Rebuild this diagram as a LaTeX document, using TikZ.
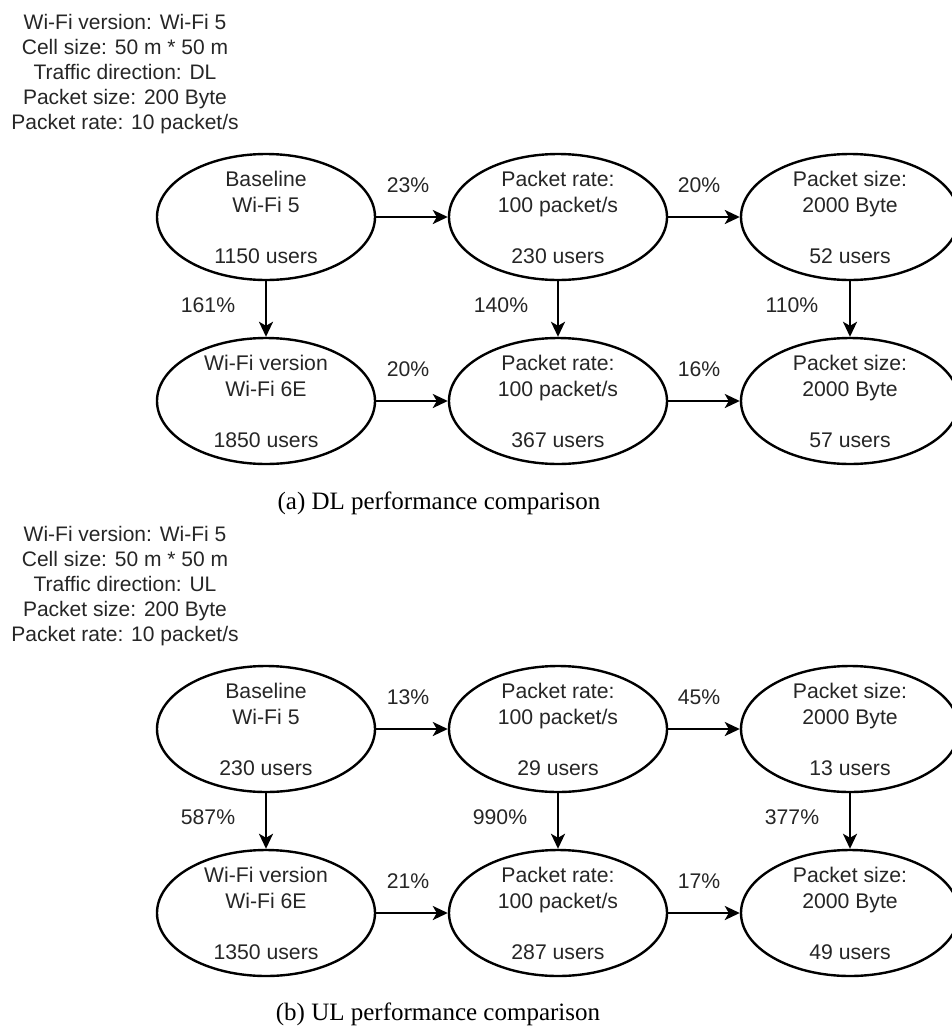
\documentclass[tikz,border=0pt]{standalone}
\usepackage{fontspec}
\setmainfont{Liberation Sans}
\newfontfamily\capfont{Liberation Serif}
\usetikzlibrary{shapes.geometric,arrows.meta}

\definecolor{ink}{HTML}{262626}
\newcommand\txtfont{\fontsize{21.2}{25.5}\selectfont}
\newcommand\hdrfont{\fontsize{21}{25}\selectfont}
% three-line ellipse body: two title lines, a gap, the user count
\newcommand\cellbody[3]{\smash{\raisebox{-8pt}{\begin{tabular}{@{}c@{}}#1\\#2\\ \\#3\end{tabular}}}}

\tikzset{
  state/.style={ellipse, draw=black, line width=2.4pt, minimum width=218pt,
    minimum height=126pt, inner sep=0pt, font=\txtfont, text=ink},
  flow/.style={line width=2.4pt, -{Stealth[length=15pt,width=14pt,inset=4pt]}},
  pct/.style={font=\txtfont, text=ink, inner sep=0pt},
  hdr/.style={font=\hdrfont, text=ink, align=center, inner sep=0pt},
  capt/.style={font=\capfont\fontsize{25}{29}\selectfont, text=black, inner sep=0pt}
}

\begin{document}
\begin{tikzpicture}[x=1pt,y=-1pt]
\clip (0,0) rectangle (952,1026);
\fill[white] (0,0) rectangle (952,1026);

% ---------- (a) downlink ----------
\node[hdr] (hdra) at (125,74) {Wi-Fi version: Wi-Fi 5\\Cell size: 50 m * 50 m\\Traffic direction: DL\\Packet size: 200 Byte\\Packet rate: 10 packet/s};

\node[state] (a11) at (266,217) {\cellbody{Baseline}{Wi-Fi 5}{1150 users}};
\node[state] (a12) at (558,217) {\cellbody{Packet rate:}{100 packet/s}{230 users}};
\node[state] (a13) at (850,217) {\cellbody{Packet size:}{2000 Byte}{52 users}};
\node[state] (a21) at (266,401) {\cellbody{Wi-Fi version}{Wi-Fi 6E}{1850 users}};
\node[state] (a22) at (558,401) {\cellbody{Packet rate:}{100 packet/s}{367 users}};
\node[state] (a23) at (850,401) {\cellbody{Packet size:}{2000 Byte}{57 users}};

\draw[flow] (a11) -- node[pct, xshift=-4pt, yshift=32pt] {23\%} (a12);
\draw[flow] (a12) -- node[pct, xshift=-5pt, yshift=32pt] {20\%} (a13);
\draw[flow] (a21) -- node[pct, xshift=-4pt, yshift=32pt] {20\%} (a22);
\draw[flow] (a22) -- node[pct, xshift=-5pt, yshift=32pt] {16\%} (a23);
\draw[flow] (a11) -- node[pct, xshift=-58pt, yshift=4pt] {161\%} (a21);
\draw[flow] (a12) -- node[pct, xshift=-57pt, yshift=4pt] {140\%} (a22);
\draw[flow] (a13) -- node[pct, xshift=-58pt, yshift=4pt] {110\%} (a23);

\node[capt] (capa) at (439,503) {(a) DL performance comparison};

% ---------- (b) uplink ----------
\node[hdr] (hdrb) at (125,586) {Wi-Fi version: Wi-Fi 5\\Cell size: 50 m * 50 m\\Traffic direction: UL\\Packet size: 200 Byte\\Packet rate: 10 packet/s};

\node[state] (b11) at (266,729) {\cellbody{Baseline}{Wi-Fi 5}{230 users}};
\node[state] (b12) at (558,729) {\cellbody{Packet rate:}{100 packet/s}{29 users}};
\node[state] (b13) at (850,729) {\cellbody{Packet size:}{2000 Byte}{13 users}};
\node[state] (b21) at (266,913) {\cellbody{Wi-Fi version}{Wi-Fi 6E}{1350 users}};
\node[state] (b22) at (558,913) {\cellbody{Packet rate:}{100 packet/s}{287 users}};
\node[state] (b23) at (850,913) {\cellbody{Packet size:}{2000 Byte}{49 users}};

\draw[flow] (b11) -- node[pct, xshift=-4pt, yshift=32pt] {13\%} (b12);
\draw[flow] (b12) -- node[pct, xshift=-5pt, yshift=32pt] {45\%} (b13);
\draw[flow] (b21) -- node[pct, xshift=-4pt, yshift=32pt] {21\%} (b22);
\draw[flow] (b22) -- node[pct, xshift=-5pt, yshift=32pt] {17\%} (b23);
\draw[flow] (b11) -- node[pct, xshift=-58pt, yshift=4pt] {587\%} (b21);
\draw[flow] (b12) -- node[pct, xshift=-58pt, yshift=4pt] {990\%} (b22);
\draw[flow] (b13) -- node[pct, xshift=-58pt, yshift=4pt] {377\%} (b23);

\node[capt] (capb) at (438,1014) {(b) UL performance comparison};
\end{tikzpicture}
\end{document}
